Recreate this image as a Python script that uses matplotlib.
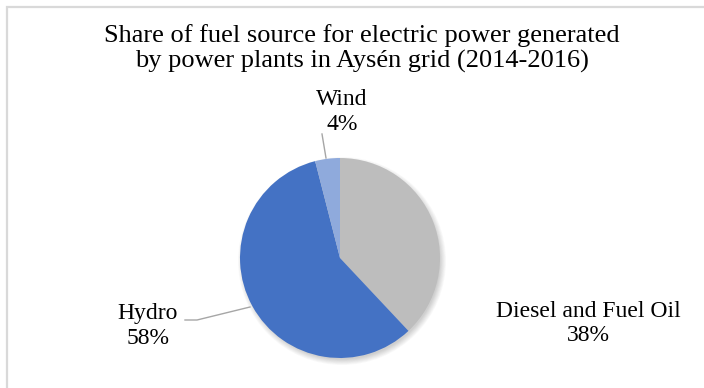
import matplotlib.pyplot as plt
from matplotlib.patches import Circle, Rectangle

# Share of fuel source, Aysen grid 2014-2016
sources = ['Diesel and Fuel Oil', 'Hydro', 'Wind']
shares = [38, 58, 4]
colors = ['#BDBDBD', '#4472C4', '#8FAADC']

title = 'Share of fuel source for electric power generated\nby power plants in Aysén grid (2014-2016)'

plt.rcParams['font.family'] = ['Liberation Serif', 'DejaVu Serif']

W, H = 704, 388
fig = plt.figure(figsize=(W / 100, H / 100), dpi=100)
ax = fig.add_axes([0, 0, 1, 1])

# chart border (cropped at right/bottom)
ax.add_patch(Rectangle((7, -20), W + 20, H - 7 + 20, fill=False,
                       edgecolor='#D9D9D9', linewidth=1.6))

cx, cy, r = 340, H - 258, 100

# soft shadow
for k in range(8):
    ax.add_patch(Circle((cx + 2, cy - 3), r + 4 - k * 0.8, color='#000000',
                        alpha=0.025, linewidth=0, zorder=1))

wedges, _ = ax.pie(shares, colors=colors, startangle=90, counterclock=False,
                   center=(cx, cy), radius=r, frame=True,
                   wedgeprops={'linewidth': 0, 'zorder': 2})
ax.set_xlim(0, W)
ax.set_ylim(0, H)
ax.set_aspect('equal')
ax.axis('off')

ax.text(362, H - 48.5, title, ha='center', va='center', fontsize=19,
        linespacing=1.22, color='#000000')

fs = 17
ax.text(342, H - 112, '%s\n%d%%' % (sources[2], shares[2]), ha='center',
        va='center', fontsize=fs, linespacing=1.28)
ax.plot([322, 326], [H - 134, H - 158], color='#A6A6A6', lw=1, zorder=3)

ax.text(148, H - 326, '%s\n%d%%' % (sources[1], shares[1]), ha='center',
        va='center', fontsize=fs, linespacing=1.25)
ax.plot([185, 197, 250], [H - 320, H - 320, H - 307], color='#A6A6A6', lw=1,
        zorder=3)

ax.text(588, H - 323.5, '%s\n%d%%' % (sources[0], shares[0]), ha='center',
        va='center', fontsize=fs, linespacing=1.22)

fig.savefig('out.png', dpi=100)
